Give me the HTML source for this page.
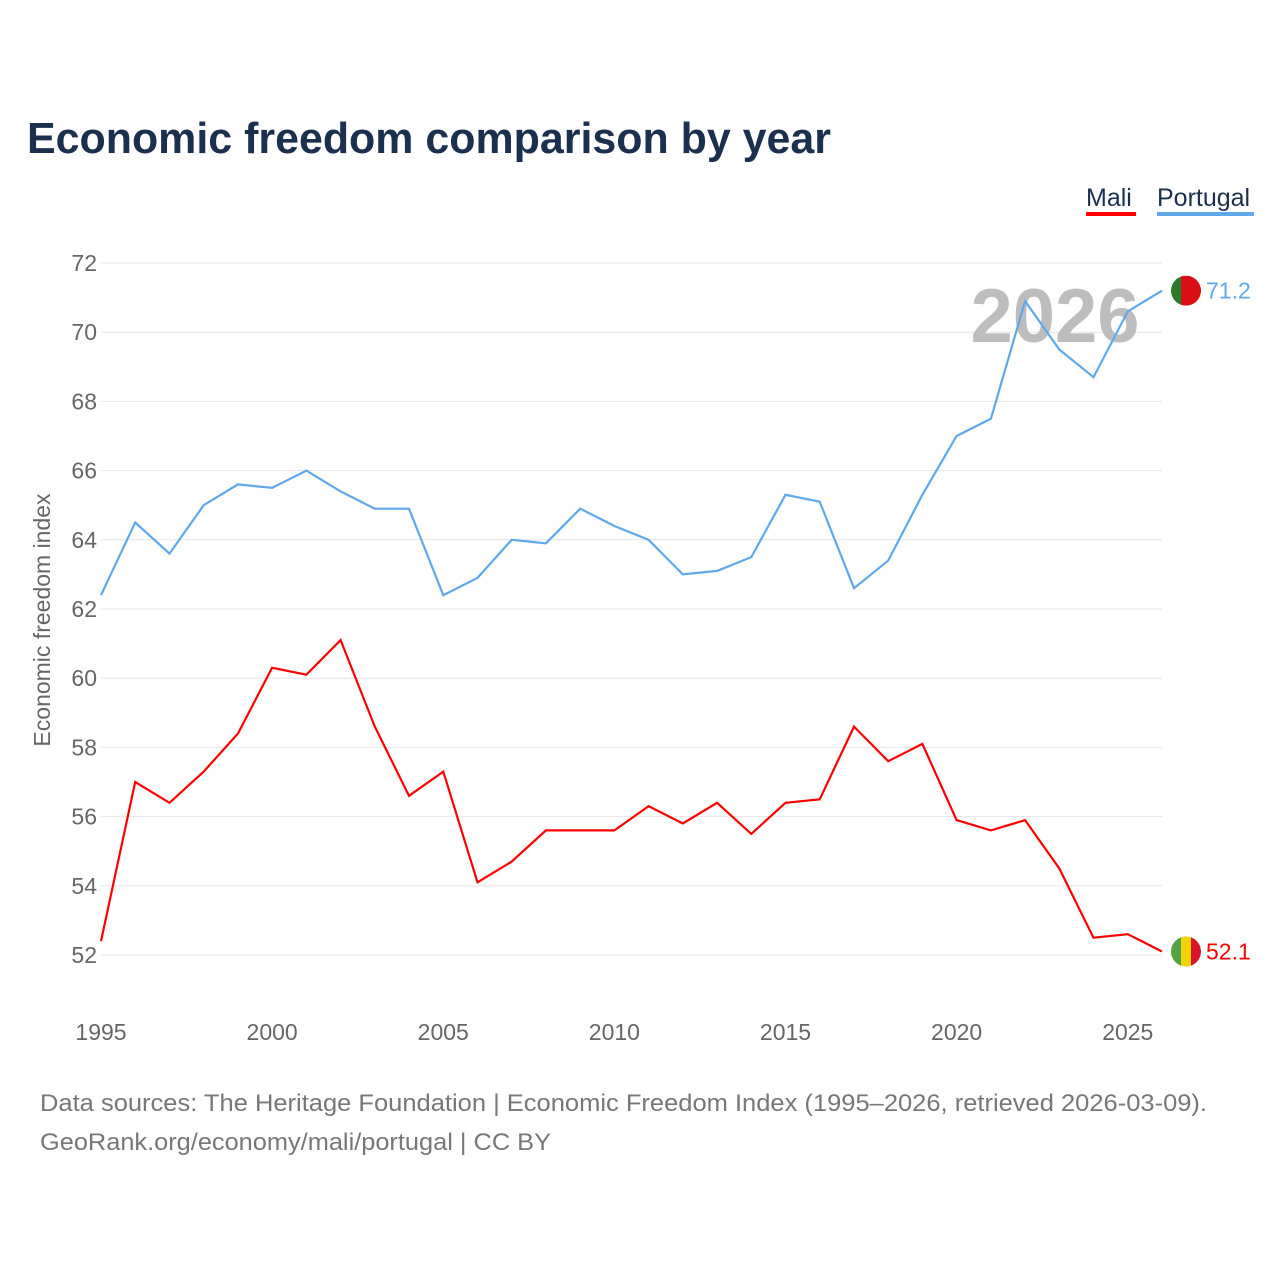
<!DOCTYPE html>
<html><head><meta charset="utf-8">
<style>
body{margin:0;background:#fff;font-family:"Liberation Sans",sans-serif;}
svg text{font-family:"Liberation Sans",sans-serif;}
</style></head>
<body>
<svg width="1280" height="1280" xmlns="http://www.w3.org/2000/svg">
<rect width="1280" height="1280" fill="#fff"/>
<text x="27" y="153" font-size="44" font-weight="bold" fill="#1b2f4e" textLength="804" lengthAdjust="spacingAndGlyphs">Economic freedom comparison by year</text>
<g>
<text x="1086" y="206" font-size="25" fill="#1b2f4e">Mali</text>
<rect x="1086" y="212" width="50" height="4" fill="#f00"/>
<text x="1157" y="206" font-size="25" fill="#1b2f4e">Portugal</text>
<rect x="1157" y="212" width="97" height="4" fill="#5fa8ec"/>
</g>
<g id="grid"></g>
<g id="yt"></g>
<g id="xt"></g>
<text x="1055" y="342" font-size="76" font-weight="bold" fill="#bdbdbd" text-anchor="middle">2026</text>
<text transform="translate(50,620) rotate(-90)" font-size="23" fill="#666" text-anchor="middle">Economic freedom index</text>
<g id="series"></g>
<text x="40" y="1111" font-size="24" fill="#777" textLength="1167" lengthAdjust="spacingAndGlyphs">Data sources: The Heritage Foundation | Economic Freedom Index (1995–2026, retrieved 2026-03-09).</text>
<text x="40" y="1150" font-size="24" fill="#777" textLength="511" lengthAdjust="spacingAndGlyphs">GeoRank.org/economy/mali/portugal | CC BY</text>
</svg>
<script>
const years=[1995,1996,1997,1998,1999,2000,2001,2002,2003,2004,2005,2006,2007,2008,2009,2010,2011,2012,2013,2014,2015,2016,2017,2018,2019,2020,2021,2022,2023,2024,2025,2026];
const portugal=[62.4,64.5,63.6,65.0,65.6,65.5,66.0,65.4,64.9,64.9,62.4,62.9,64.0,63.9,64.9,64.4,64.0,63.0,63.1,63.5,65.3,65.1,62.6,63.4,65.3,67.0,67.5,70.9,69.5,68.7,70.6,71.2];
const mali=[52.4,57.0,56.4,57.3,58.4,60.3,60.1,61.1,58.6,56.6,57.3,54.1,54.7,55.6,55.6,55.6,56.3,55.8,56.4,55.5,56.4,56.5,58.6,57.6,58.1,55.9,55.6,55.9,54.5,52.5,52.6,52.1];
const yTicks=[52,54,56,58,60,62,64,66,68,70,72];
const xTicks=[1995,2000,2005,2010,2015,2020,2025];
const NS="http://www.w3.org/2000/svg";
const X=v=>101+(v-1995)*(1162-101)/31;
const Y=v=>955-(v-52)*(955-263)/20;
function mk(t,a,p,txt){const e=document.createElementNS(NS,t);for(const k in a)e.setAttribute(k,a[k]);if(txt!==undefined)e.textContent=txt;document.getElementById(p).appendChild(e);return e;}
yTicks.forEach(v=>{
 const l=mk('line',{x1:101,x2:1162,y1:Y(v),y2:Y(v),stroke:'#e6e6e6','stroke-width':1},'grid');
 
 
 const t=mk('text',{x:97,y:Y(v)+8,'font-size':23,fill:'#666','text-anchor':'end'},'yt',v);
 
 
});
xTicks.forEach(v=>{
 const t=mk('text',{x:X(v),y:1040,'font-size':23,fill:'#666','text-anchor':'middle'},'xt',v);
 
 
});
function series(vals,color,name,flag){
 const d=vals.map((v,i)=>(i?'L':'M')+X(years[i]).toFixed(1)+','+Y(v).toFixed(1)).join('');
 const p=mk('path',{d:d,fill:'none',stroke:color,'stroke-width':2.2},'series');
 
 
 const lx=X(years[years.length-1]),ly=Y(vals[vals.length-1]);
 const g=mk('g',{},'series');
 
 
 const cx=lx+24;
 flag.forEach((c,i)=>{const r=document.createElementNS(NS,'rect');r.setAttribute('x',cx-15+i*30/flag.length);r.setAttribute('y',ly-15);r.setAttribute('width',30/flag.length+0.5);r.setAttribute('height',30);r.setAttribute('fill',c);r.setAttribute('clip-path','url(#c'+name+')');g.appendChild(r);});
 const cp=mk('clipPath',{id:'c'+name},'series');const cc=document.createElementNS(NS,'circle');cc.setAttribute('cx',cx);cc.setAttribute('cy',ly);cc.setAttribute('r',15);cp.appendChild(cc);
 const t=mk('text',{x:cx+20,y:ly+8,'font-size':23,fill:color},'series',vals[vals.length-1].toFixed(1));
 
 
}
series(portugal,'#5fa8ec','portugal',['#2a7a2a','#da0e15','#da0e15']);
series(mali,'#f00','mali',['#52a447','#f4d400','#d9142b']);
</script>
</body></html>
